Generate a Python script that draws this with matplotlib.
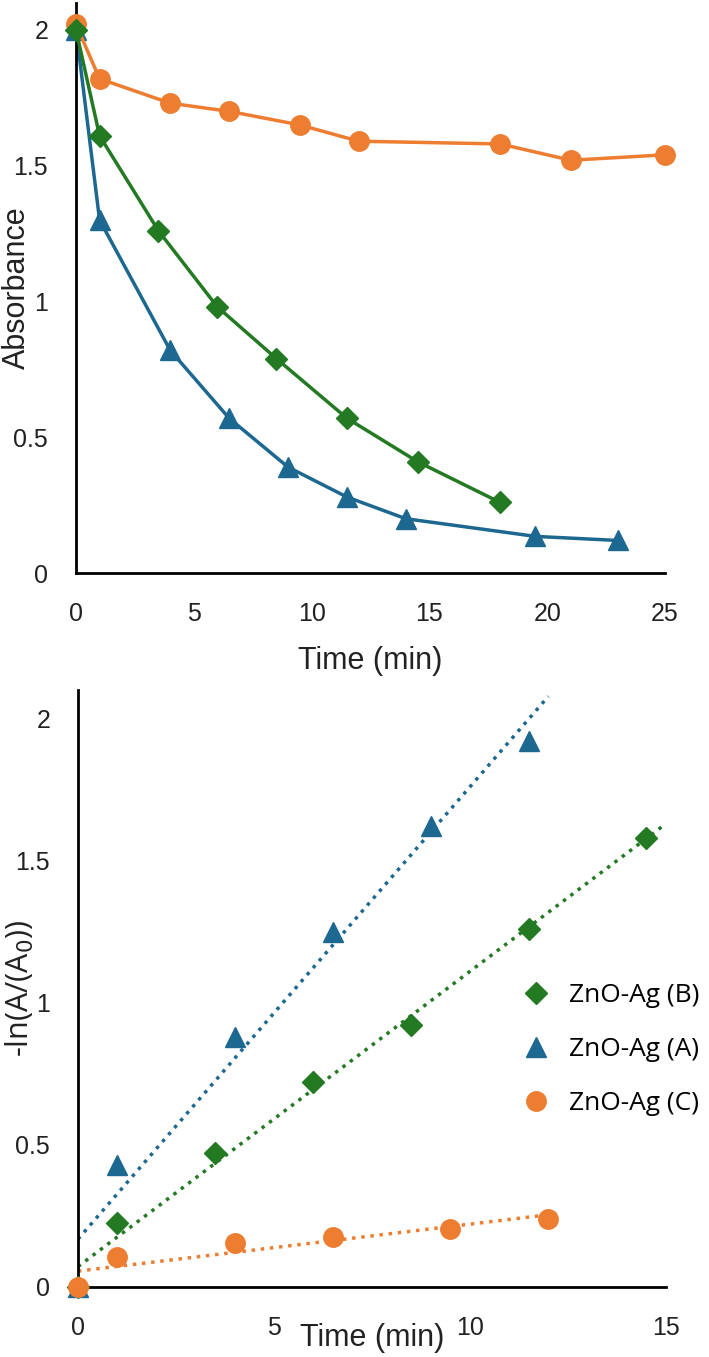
import numpy as np
import matplotlib
matplotlib.use("Agg")
import matplotlib.pyplot as plt
from matplotlib.lines import Line2D

# absorbance vs time (top panel)
t_a = [0, 1, 4, 6.5, 9, 11.5, 14, 19.5, 23]
abs_a = [2.0, 1.30, 0.82, 0.57, 0.39, 0.28, 0.20, 0.135, 0.12]
t_b = [0, 1, 3.5, 6, 8.5, 11.5, 14.5, 18]
abs_b = [2.0, 1.61, 1.26, 0.98, 0.79, 0.57, 0.41, 0.26]
t_c = [0, 1, 4, 6.5, 9.5, 12, 18, 21, 25]
abs_c = [2.02, 1.82, 1.73, 1.70, 1.65, 1.59, 1.58, 1.52, 1.54]

# -ln(A/A0) vs time (bottom panel)
k_t_a = [0, 1, 4, 6.5, 9, 11.5]
k_a = [0, 0.43, 0.88, 1.25, 1.62, 1.92]
k_t_b = [0, 1, 3.5, 6, 8.5, 11.5, 14.5]
k_b = [0, 0.225, 0.47, 0.72, 0.92, 1.26, 1.58]
k_t_c = [0, 1, 4, 6.5, 9.5, 12]
k_c = [0, 0.105, 0.155, 0.175, 0.205, 0.24]

blue = '#1d6890'
green = '#237a23'
orange = '#ed7d31'

plt.rcParams['font.family'] = ['Liberation Sans', 'DejaVu Sans']

fig = plt.figure(figsize=(7.09, 13.57), dpi=100)
ax1 = fig.add_axes([0.1072, 0.5777, 0.8308, 0.4203])
ax2 = fig.add_axes([0.1100, 0.0516, 0.8293, 0.4400])


def style(ax, xmax, xlabel, ylabel, xlab_y, ylab_x, yfont):
    for s in ['top', 'right']:
        ax.spines[s].set_visible(False)
    for s in ['left', 'bottom']:
        ax.spines[s].set_linewidth(2.0)
        ax.spines[s].set_color('black')
    ax.set_xlim(0, xmax)
    ax.set_ylim(0, 2.1)
    ax.set_xticks(np.arange(0, xmax + 1, 5))
    ax.set_yticks([0, 0.5, 1, 1.5, 2])
    ax.set_yticklabels(['0', '0.5', '1', '1.5', '2'])
    ax.tick_params(length=0, labelsize=18, colors='#222222')
    ax.tick_params(axis='y', pad=20)
    ax.tick_params(axis='x', pad=21)
    ax.set_xlabel(xlabel, fontsize=22, color='#222222')
    ax.set_ylabel(ylabel, fontsize=22, color='#222222', family=yfont)
    ax.xaxis.set_label_coords(0.5, xlab_y)
    ax.yaxis.set_label_coords(ylab_x, 0.5)


# top panel
ax1.plot(t_c, abs_c, color=orange, lw=2.5, marker='o', ms=14, clip_on=False, zorder=3)
ax1.plot(t_b, abs_b, color=green, lw=2.5, marker='D', ms=11, clip_on=False, zorder=4)
ax1.plot(t_a, abs_a, color=blue, lw=2.5, marker='^', ms=14, clip_on=False, zorder=2)
style(ax1, 25, 'Time (min)', 'Absorbance', -0.128, -0.074,
      ['Liberation Sans', 'DejaVu Sans'])

# bottom panel: points + linear trendlines
series = [
    (k_t_b, k_b, green, 'D', 11, 0.5, 'ZnO-Ag (B)'),
    (k_t_a, k_a, blue, '^', 14, 0.5, 'ZnO-Ag (A)'),
    (k_t_c, k_c, orange, 'o', 14, 0.1, 'ZnO-Ag (C)'),
]
handles = []
for x, y, c, m, s, ext, lab in series:
    slope, icpt = np.polyfit(x, y, 1)
    xf = np.array([0, max(x) + ext])
    ax2.plot(xf, slope * xf + icpt, color=c, lw=2.5, ls=':', zorder=2)
    ax2.plot(x, y, ls='none', color=c, marker=m, ms=s, clip_on=False, zorder=3)
    handles.append(Line2D([], [], ls='none', color=c, marker=m, ms=s, label=lab))
style(ax2, 15, 'Time (min)', '-ln(A/(A$_0$))', -0.061, -0.072,
      ['Open Sans', 'DejaVu Sans'])

ax2.legend(handles=handles, loc='center left', bbox_to_anchor=(0.756, 0.397),
           frameon=False, borderpad=0, borderaxespad=0, handlelength=1.0,
           handletextpad=0.75, labelspacing=1.1,
           prop={'family': ['Open Sans', 'DejaVu Sans'], 'size': 19})

fig.savefig('out.png', dpi=100)
